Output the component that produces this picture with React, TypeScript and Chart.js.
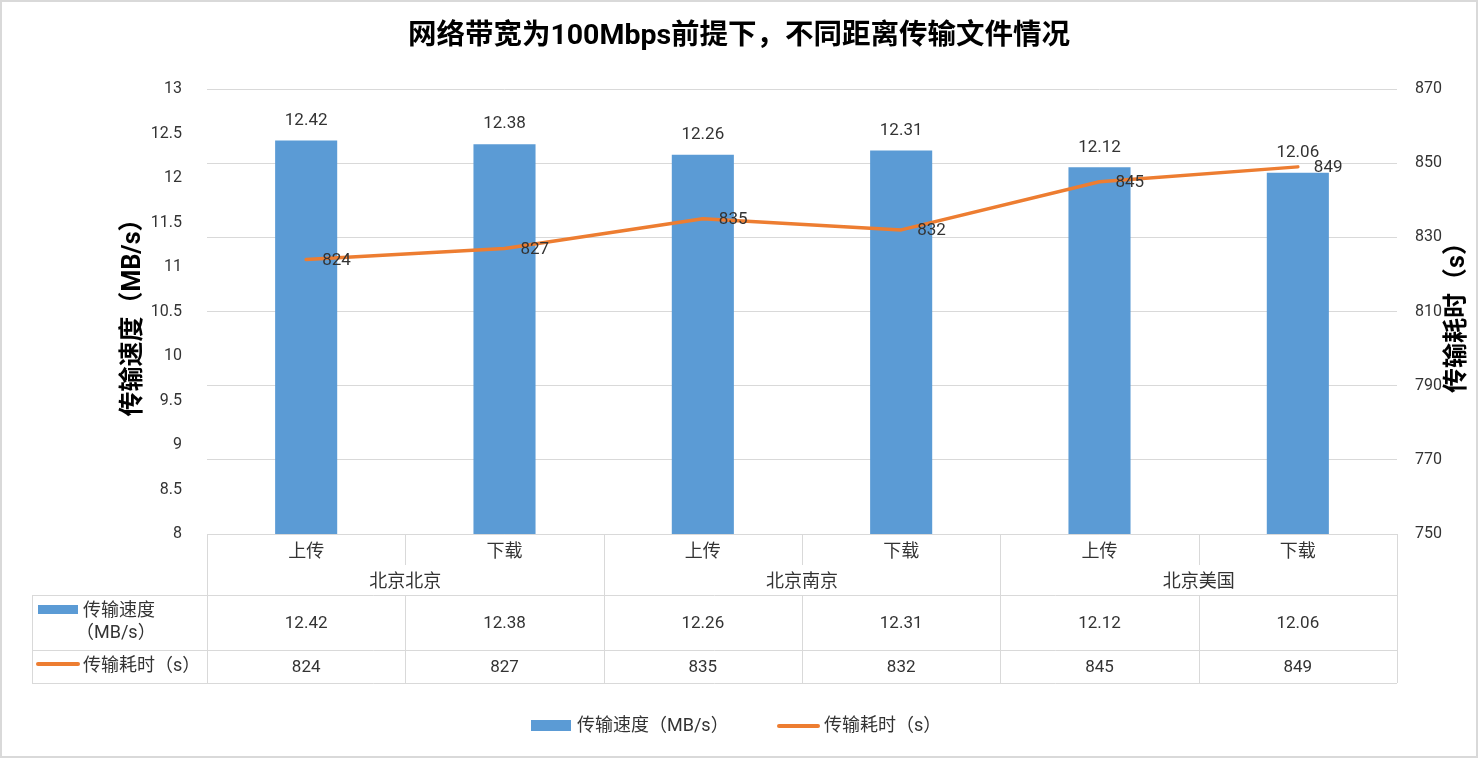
import React, { useEffect, useRef } from 'react';
import { Chart, registerables } from 'chart.js';

Chart.register(...registerables);

// ---------- data ----------
const titleText = '网络带宽为100Mbps前提下，不同距离传输文件情况';
const subCategories = ['上传', '下载', '上传', '下载', '上传', '下载'];
const groupLabels = ['北京北京', '北京北京', '北京南京', '北京南京', '北京美国', '北京美国'];
const speedValues = [12.42, 12.38, 12.26, 12.31, 12.12, 12.06];
const timeValues = [824, 827, 835, 832, 845, 849];
const speedSeriesName = '传输速度（MB/s）';
const speedSeriesNameLines = ['传输速度', '（MB/s）'];
const timeSeriesName = '传输耗时（s）';
const leftAxisTitle = '传输速度（MB/s）';
const rightAxisTitle = '传输耗时（s）';
const leftTickMin = 8;
const leftTickMax = 13;
const leftTickStep = 0.5;
const rightTickMin = 750;
const rightTickMax = 870;
const rightTickStep = 20;

// ---------- styles ----------
const BAR_COLOR = '#5B9BD5';
const LINE_COLOR = '#ED7D31';
const GRID_COLOR = '#D9D9D9';
const TEXT_COLOR = '#333333';
const NUM_FONT = '17px Roboto, "Noto Sans CJK SC"';
const TICK_FONT_FAMILY = 'Roboto, "Noto Sans CJK SC"';
const CJK_FONT = '18px "Noto Sans CJK SC", Roboto';
const MIXED_FONT = '18px Roboto, "Noto Sans CJK SC"';

const W = 1478;
const H = 758;

const decorPlugin = {
  id: 'excelDecor',
  beforeDraw(chart: any) {
    const ctx = chart.ctx;
    ctx.save();
    ctx.fillStyle = '#ffffff';
    ctx.fillRect(0, 0, W, H);
    ctx.restore();
  },
  afterDatasetsDraw(chart: any) {
    const ctx = chart.ctx;
    ctx.save();
    ctx.font = NUM_FONT;
    ctx.fillStyle = TEXT_COLOR;
    ctx.textBaseline = 'middle';
    const barMeta = chart.getDatasetMeta(1);
    barMeta.data.forEach((el: any, i: number) => {
      ctx.textAlign = 'center';
      ctx.fillText(String(speedValues[i]), el.x, el.y - 20);
    });
    const lineMeta = chart.getDatasetMeta(0);
    lineMeta.data.forEach((el: any, i: number) => {
      ctx.textAlign = 'left';
      ctx.fillText(String(timeValues[i]), el.x + 16, el.y + 1);
    });
    ctx.restore();
  },
  afterDraw(chart: any) {
    const ctx = chart.ctx;
    const area = chart.chartArea;
    const xs = chart.scales.x;
    const n = subCategories.length;
    const colW = (area.right - area.left) / n;
    const px = (v: number) => Math.round(v) + 0.5;

    ctx.save();
    // outer border
    ctx.strokeStyle = GRID_COLOR;
    ctx.lineWidth = 2;
    ctx.strokeRect(1, 1, W - 2, H - 2);

    // title
    ctx.fillStyle = '#000000';
    ctx.font = 'bold 28.5px Roboto, "Noto Sans CJK SC"';
    ctx.textAlign = 'center';
    ctx.textBaseline = 'middle';
    ctx.fillText(titleText, W / 2, 37);

    // axis titles
    const midY = (area.top + area.bottom) / 2;
    ctx.font = 'bold 25px Roboto, "Noto Sans CJK SC"';
    ctx.save();
    ctx.translate(134, midY);
    ctx.rotate(-Math.PI / 2);
    ctx.fillText(leftAxisTitle, 0, 0);
    ctx.restore();
    ctx.save();
    ctx.translate(1458, midY);
    ctx.rotate(-Math.PI / 2);
    ctx.fillText(rightAxisTitle, 0, 0);
    ctx.restore();

    // data table
    const top = area.bottom;
    const catRow1 = top + 31;
    const catRow2 = top + 61;
    const valRow1 = top + 116;
    const valRow2 = top + 149;
    const tableLeft = 32;

    ctx.strokeStyle = GRID_COLOR;
    ctx.lineWidth = 1;
    ctx.beginPath();
    ctx.moveTo(area.left, px(top));
    ctx.lineTo(area.right, px(top));
    [catRow2, valRow1, valRow2].forEach((y) => {
      ctx.moveTo(tableLeft, px(y));
      ctx.lineTo(area.right, px(y));
    });
    ctx.moveTo(px(tableLeft), catRow2);
    ctx.lineTo(px(tableLeft), valRow2);
    for (let i = 0; i <= n; i++) {
      const x = px(area.left + i * colW);
      const isGroupEdge = i === 0 || i === n || groupLabels[i] !== groupLabels[i - 1];
      if (isGroupEdge) {
        ctx.moveTo(x, top);
        ctx.lineTo(x, valRow2);
      } else {
        ctx.moveTo(x, top);
        ctx.lineTo(x, catRow1);
        ctx.moveTo(x, catRow2);
        ctx.lineTo(x, valRow2);
      }
    }
    ctx.stroke();

    ctx.fillStyle = TEXT_COLOR;
    ctx.textAlign = 'center';
    ctx.textBaseline = 'middle';
    ctx.font = CJK_FONT;
    subCategories.forEach((s, i) => {
      ctx.fillText(s, xs.getPixelForValue(i), top + 16);
    });
    // group labels
    let start = 0;
    for (let i = 1; i <= n; i++) {
      if (i === n || groupLabels[i] !== groupLabels[start]) {
        const cx = (xs.getPixelForValue(start) + xs.getPixelForValue(i - 1)) / 2;
        ctx.fillText(groupLabels[start], cx, top + 46);
        start = i;
      }
    }
    ctx.font = NUM_FONT;
    speedValues.forEach((v, i) => {
      ctx.fillText(String(v), xs.getPixelForValue(i), (catRow2 + valRow1) / 2 + 1);
    });
    timeValues.forEach((v, i) => {
      ctx.fillText(String(v), xs.getPixelForValue(i), (valRow1 + valRow2) / 2 + 1);
    });

    // table legend keys
    ctx.fillStyle = BAR_COLOR;
    ctx.fillRect(38, top + 71, 40, 9);
    ctx.strokeStyle = LINE_COLOR;
    ctx.lineWidth = 4;
    ctx.lineCap = 'round';
    ctx.beginPath();
    ctx.moveTo(38, top + 130);
    ctx.lineTo(78, top + 130);
    ctx.stroke();
    ctx.fillStyle = TEXT_COLOR;
    ctx.textAlign = 'left';
    ctx.font = MIXED_FONT;
    ctx.fillText(speedSeriesNameLines[0], 83, top + 77);
    ctx.fillText(speedSeriesNameLines[1], 76, top + 99);
    ctx.fillText(timeSeriesName, 83, top + 132);

    // bottom legend
    const ly = 726;
    ctx.fillStyle = BAR_COLOR;
    ctx.fillRect(531, ly - 6, 40, 11);
    ctx.fillStyle = TEXT_COLOR;
    ctx.fillText(speedSeriesName, 577, ly);
    ctx.strokeStyle = LINE_COLOR;
    ctx.lineWidth = 4;
    ctx.beginPath();
    ctx.moveTo(779, ly);
    ctx.lineTo(818, ly);
    ctx.stroke();
    ctx.fillText(timeSeriesName, 824, ly);
    ctx.restore();
  },
};

export default function App() {
  const canvasRef = useRef<HTMLCanvasElement | null>(null);

  useEffect(() => {
    if (!canvasRef.current) return;
    const chart = new Chart(canvasRef.current, {
      type: 'bar',
      data: {
        labels: subCategories.map((s, i) => [s, groupLabels[i]]),
        datasets: [
          {
            type: 'line',
            label: timeSeriesName,
            data: timeValues,
            yAxisID: 'y1',
            borderColor: LINE_COLOR,
            backgroundColor: LINE_COLOR,
            borderWidth: 3.5,
            pointRadius: 0,
            tension: 0,
            borderCapStyle: 'round',
            borderJoinStyle: 'round',
            order: 0,
          } as any,
          {
            type: 'bar',
            label: speedSeriesName,
            data: speedValues,
            yAxisID: 'y',
            backgroundColor: BAR_COLOR,
            barPercentage: 0.313,
            categoryPercentage: 1,
            order: 1,
          } as any,
        ],
      },
      options: {
        responsive: false,
        animation: false,
        layout: { padding: { top: 89, bottom: 224, left: 0, right: 0 } },
        plugins: {
          legend: { display: false },
          tooltip: { enabled: false },
          title: { display: false },
        },
        scales: {
          x: {
            display: false,
            offset: true,
            grid: { display: false },
          },
          y: {
            position: 'left',
            min: leftTickMin,
            max: leftTickMax,
            grid: { display: false },
            border: { display: false },
            ticks: {
              stepSize: leftTickStep,
              padding: 17,
              color: TEXT_COLOR,
              font: { family: TICK_FONT_FAMILY, size: 16 },
              callback: (v: any) => String(v),
            },
            afterFit: (scale: any) => {
              scale.width = 207;
            },
          },
          y1: {
            position: 'right',
            min: rightTickMin,
            max: rightTickMax,
            grid: { color: GRID_COLOR, drawTicks: false, lineWidth: 1 },
            border: { display: false },
            ticks: {
              stepSize: rightTickStep,
              padding: 18,
              color: TEXT_COLOR,
              font: { family: TICK_FONT_FAMILY, size: 16 },
            },
            afterFit: (scale: any) => {
              scale.width = 81;
            },
          },
        },
      } as any,
      plugins: [decorPlugin],
    });
    return () => chart.destroy();
  }, []);

  return (
    <div style={{ position: 'absolute', left: 0, top: 0, width: W, height: H, background: '#fff' }}>
      <canvas ref={canvasRef} width={W} height={H} style={{ display: 'block', width: W, height: H }} />
    </div>
  );
}
